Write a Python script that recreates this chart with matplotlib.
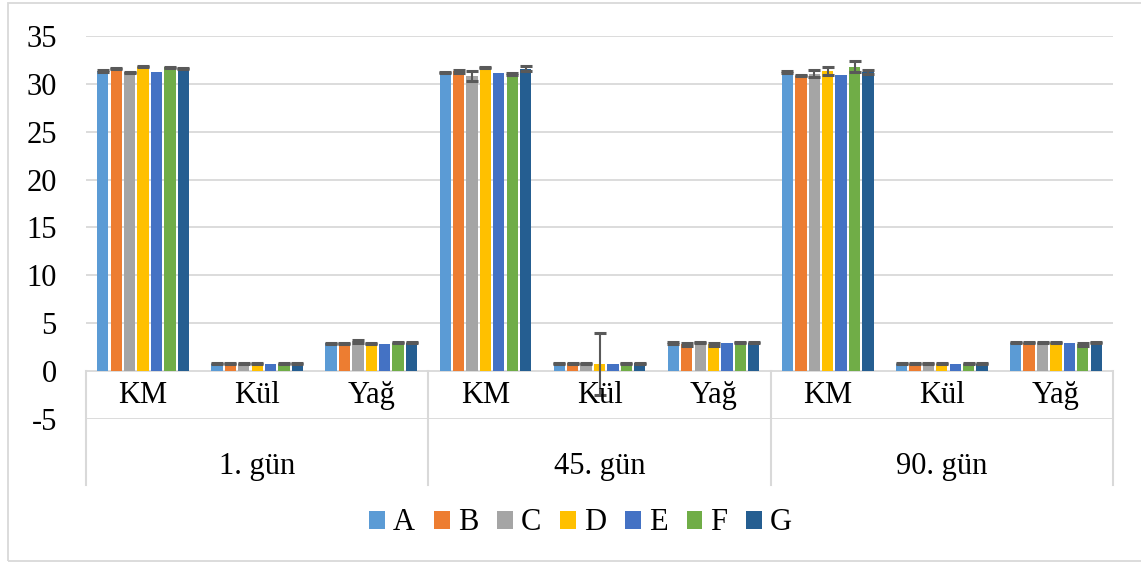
import numpy as np
import matplotlib
matplotlib.use('Agg')
import matplotlib.pyplot as plt
from matplotlib.patches import Rectangle, Patch

plt.rcParams['font.family'] = ['Liberation Serif', 'DejaVu Serif']
plt.rcParams['axes.unicode_minus'] = False

# Данные
series = ['A', 'B', 'C', 'D', 'E', 'F', 'G']
components = ['KM', 'Kül', 'Yağ']
days = ['1. gün', '45. gün', '90. gün']

# значения: KM, Kül, Yağ для 1., 45., 90. gün
A = [31.35, 0.75, 2.9, 31.2, 0.8, 2.9, 31.25, 0.75, 2.95]
B = [31.6, 0.75, 2.9, 31.3, 0.8, 2.8, 30.85, 0.75, 2.95]
C = [31.2, 0.75, 3.1, 30.8, 0.8, 2.95, 31.05, 0.75, 2.95]
D = [31.8, 0.75, 2.85, 31.75, 0.75, 2.8, 31.35, 0.75, 2.95]
E = [31.25, 0.7, 2.85, 31.1, 0.7, 2.9, 30.95, 0.7, 2.9]
F = [31.75, 0.75, 2.95, 31.05, 0.8, 2.95, 31.8, 0.75, 2.8]
G = [31.65, 0.75, 2.95, 31.6, 0.8, 2.95, 31.25, 0.75, 2.95]

A_err = [0.08, 0.05, 0.05, 0.05, 0.05, 0.1, 0.08, 0.05, 0.05]
B_err = [0.08, 0.05, 0.05, 0.2, 0.05, 0.15, 0.05, 0.05, 0.05]
C_err = [0.08, 0.05, 0.15, 0.55, 0.05, 0.05, 0.35, 0.05, 0.05]
D_err = [0.08, 0.05, 0.05, 0.05, 3.2, 0.15, 0.45, 0.05, 0.05]
E_err = None
F_err = [0.05, 0.05, 0.05, 0.1, 0.05, 0.05, 0.6, 0.05, 0.15]
G_err = [0.05, 0.05, 0.05, 0.3, 0.05, 0.05, 0.2, 0.05, 0.05]

values = [A, B, C, D, E, F, G]
errors = [A_err, B_err, C_err, D_err, E_err, F_err, G_err]
colors = ['#5B9BD5', '#ED7D31', '#A5A5A5', '#FFC000', '#4472C4', '#70AD47', '#255E91']

fig = plt.figure(figsize=(11.41, 5.63), dpi=100)
ax = fig.add_axes([86 / 1141, 1 - 419 / 563, (1113 - 86) / 1141, (419 - 36) / 563])

grid_c = '#D9D9D9'
for yv in range(-5, 36, 5):
    ax.axhline(yv, color=grid_c, lw=1.3, zorder=0)

x = np.arange(len(days) * len(components))
pitch = 0.1175
width = 0.099
for i, (vals, err, col) in enumerate(zip(values, errors, colors)):
    xpos = x + (i - 3) * pitch
    ax.bar(xpos, vals, width, color=col, zorder=2)
    if err is not None:
        ax.errorbar(xpos, vals, yerr=err, fmt='none', ecolor='#595959',
                    elinewidth=1.5, capsize=4, capthick=2.2, zorder=3)

ax.set_xlim(-0.5, 8.5)
ax.set_ylim(-5, 35)
ax.set_yticks(range(-5, 36, 5))
ax.set_xticks([])
ax.tick_params(axis='y', length=0, pad=21, labelsize=22)
for s in ax.spines.values():
    s.set_visible(False)

# Подписи категорий
bottom = (371 - 485) / 9.575
for k in range(len(x)):
    ax.text(x[k], -2.5, components[k % 3], ha='center', va='center', fontsize=22)
for d, day in enumerate(days):
    ax.text(3 * d + 1, -10.0, day, ha='center', va='center', fontsize=22)
for xv in [-0.5, 2.5, 5.5, 8.5]:
    ax.plot([xv, xv], [0, bottom], color=grid_c, lw=1.5, clip_on=False, zorder=1)

# Легенда
handles = [Patch(facecolor=c, edgecolor='none') for c in colors]
fig.legend(handles, series, loc='center', bbox_to_anchor=(0.509, 1 - 523 / 563),
           ncol=7, frameon=False, fontsize=22, handlelength=0.52, handleheight=0.52,
           handletextpad=0.26, columnspacing=0.62)

# Рамка
fig.patches.append(Rectangle((8 / 1141, 1 - 561 / 563), 1.0, (561 - 3) / 563,
                             transform=fig.transFigure, fill=False, ec=grid_c, lw=1.3))

fig.savefig('out.png', dpi=100)
